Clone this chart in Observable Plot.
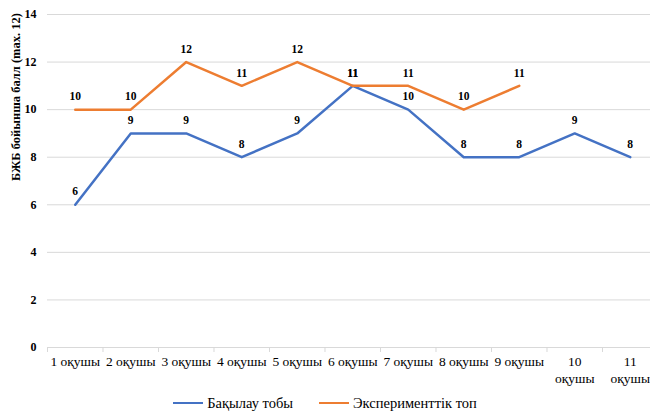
<!DOCTYPE html>
<html>
<head>
<meta charset="utf-8">
<script src="https://cdn.jsdelivr.net/npm/d3@7"></script>
<script src="https://cdn.jsdelivr.net/npm/@observablehq/plot@0.6"></script>
<style>
  html, body { margin: 0; padding: 0; background: #fff; overflow: hidden; }
  #chart { width: 650px; }
  #chart svg, #chart svg text { font-family: "Liberation Serif", "Times New Roman", Tinos, "DejaVu Serif", serif !important; }
  .legend { display: flex; justify-content: center; align-items: center; height: 26px; font-family: "Liberation Serif", "Times New Roman", Tinos, "DejaVu Serif", serif; font-size: 14.5px; color: #000; gap: 26px; }
  .legend .item { display: flex; align-items: center; gap: 4px; }
  .legend .sw { width: 30px; height: 2.5px; display: inline-block; }
</style>
</head>
<body>
<div id="chart"></div>
<script>
const categories = ["1 оқушы","2 оқушы","3 оқушы","4 оқушы","5 оқушы","6 оқушы","7 оқушы","8 оқушы","9 оқушы","10\nоқушы","11\nоқушы"];
const seriesNames = ["Бақылау тобы", "Эксперименттік топ"];
const control = [6, 9, 9, 8, 9, 11, 10, 8, 8, 9, 8];
const experimental = [10, 10, 12, 11, 12, 11, 11, 10, 11];
const yTicks = [0, 2, 4, 6, 8, 10, 12, 14];
const yTitle = "БЖБ бойынша балл (max. 12)";
const colors = ["#4472C4", "#ED7D31"];

const ctrlData = control.map((v, i) => ({x: i + 1, y: v}));
const expData = experimental.map((v, i) => ({x: i + 1, y: v}));
const boundaries = d3.range(categories.length).map(i => i + 0.5);

const plot = Plot.plot({
  width: 650,
  height: 390,
  marginLeft: 47,
  marginRight: 0,
  marginTop: 14,
  marginBottom: 43,
  style: {background: "white", overflow: "visible"},
  x: {type: "linear", domain: [0.5, 11.365], label: null},
  y: {domain: [0, 14], label: null},
  marks: [
    Plot.ruleY(yTicks, {stroke: "#d9d9d9", strokeWidth: 1}),
    Plot.axisX(boundaries, {tickSize: 5, tickFormat: () => "", stroke: "#d9d9d9", label: null}),
    Plot.axisX(d3.range(1, categories.length + 1), {
      tickSize: 0, tickPadding: 7, tickFormat: i => categories[i - 1],
      fontSize: 13.5, lineHeight: 1.25, label: null, fill: "#000"
    }),
    Plot.axisY(yTicks, {tickSize: 0, tickPadding: 11, fontSize: 12, fontWeight: "bold", label: null, fill: "#000"}),
    Plot.text([yTitle], {frameAnchor: "left", rotate: -90, dx: -32, fontSize: 12.5, fontWeight: "bold", fill: "#000"}),
    Plot.line(ctrlData, {x: "x", y: "y", stroke: colors[0], strokeWidth: 2.5}),
    Plot.line(expData, {x: "x", y: "y", stroke: colors[1], strokeWidth: 2.5}),
    Plot.text(ctrlData, {x: "x", y: "y", text: "y", dy: -13, fontSize: 11.5, fontWeight: "bold", fill: "#000"}),
    Plot.text(expData, {x: "x", y: "y", text: "y", dy: -13, fontSize: 11.5, fontWeight: "bold", fill: "#000"})
  ]
});
document.getElementById("chart").appendChild(plot);

const legend = document.createElement("div");
legend.className = "legend";
seriesNames.forEach((n, i) => {
  const it = document.createElement("span");
  it.className = "item";
  const sw = document.createElement("span");
  sw.className = "sw";
  sw.style.background = colors[i];
  const t = document.createElement("span");
  t.textContent = n;
  it.appendChild(sw); it.appendChild(t);
  legend.appendChild(it);
});
document.getElementById("chart").appendChild(legend);
</script>
</body>
</html>
